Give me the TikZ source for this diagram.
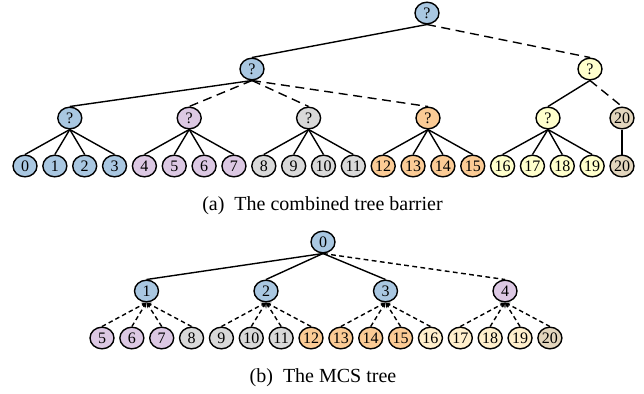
\documentclass[tikz,border=0pt]{standalone}
\usepackage{fontspec}
\setmainfont{Liberation Serif}
\usetikzlibrary{shapes.geometric,arrows.meta}
\definecolor{cblue}{HTML}{A9C7E1}
\definecolor{cpurple}{HTML}{DCC8E3}
\definecolor{cgray}{HTML}{D9D9D9}
\definecolor{corange}{HTML}{FBCB95}
\definecolor{cyellow}{HTML}{FFFFCC}
\definecolor{ccream}{HTML}{FFEFCC}
\definecolor{ctan}{HTML}{E2D5BD}
\tikzset{
  tn/.style={ellipse,draw=black,line width=0.7pt,minimum width=12pt,minimum height=10.8pt,inner sep=0pt,font=\fontsize{8}{8}\selectfont},
  sedge/.style={line width=0.7pt},
  dedge/.style={line width=0.7pt,dash pattern=on 4.5pt off 2.8pt},
  bedge/.style={line width=0.7pt,dash pattern=on 2.2pt off 1.6pt,-{Stealth[length=2.6pt,width=2.4pt]}},
  thedge/.style={line width=1.2pt},
  captxt/.style={font=\fontsize{10}{12}\selectfont}
}
\begin{document}
\begin{tikzpicture}[x=0.5pt,y=-0.5pt]
\useasboundingbox (0,0) rectangle (644,393);
% ---------- (a) ----------
\node[tn,fill=cblue] (r) at (427,13) {?};
\node[tn,fill=cblue] (la) at (252,69) {?};
\node[tn,fill=cyellow] (lb) at (590,69) {?};
\node[tn,fill=cblue] (g1) at (69.8,118) {?};
\node[tn,fill=cpurple] (g2) at (189.2,118) {?};
\node[tn,fill=cgray] (g3) at (308.6,118) {?};
\node[tn,fill=corange] (g4) at (428,118) {?};
\node[tn,fill=cyellow] (g5) at (548,118) {?};
\node[tn,fill=ctan] (g6) at (622,118) {20};
\foreach \i/\c in {0/cblue,1/cblue,2/cblue,3/cblue,4/cpurple,5/cpurple,6/cpurple,7/cpurple,8/cgray,9/cgray,10/cgray,11/cgray,12/corange,13/corange,14/corange,15/corange,16/cyellow,17/cyellow,18/cyellow,19/cyellow}
  \node[tn,fill=\c] (a\i) at ({25+29.85*\i},166) {\i};
\node[tn,fill=ctan] (a20) at (622,166) {20};
\draw[sedge] (r.south) -- (la.north);
\draw[dedge] (r.south) -- (lb.north);
\draw[sedge] (la.south) -- (g1.north);
\draw[dedge] (la.south) -- (g2.north);
\draw[dedge] (la.south) -- (g3.north);
\draw[dedge] (la.south) -- (g4.north);
\draw[sedge] (lb.south) -- (g5.north);
\draw[dedge] (lb.south) -- (g6.north);
\foreach \g/\a/\b/\c/\d in {g1/0/1/2/3,g2/4/5/6/7,g3/8/9/10/11,g4/12/13/14/15,g5/16/17/18/19}
  \foreach \k in {\a,\b,\c,\d}
    \draw[sedge] (\g.south) -- (a\k.north);
\draw[thedge] (g6.south) -- (a20.north);
\node[captxt] (capa) at (322.5,206) {(a)\hspace{5pt}The combined tree barrier};
% ---------- (b) ----------
\node[tn,fill=cblue] (m0) at (323,242) {0};
\node[tn,fill=cblue] (m1) at (146.5,291) {1};
\node[tn,fill=cblue] (m2) at (266,291) {2};
\node[tn,fill=cblue] (m3) at (385.5,291) {3};
\node[tn,fill=cpurple] (m4) at (505,291) {4};
\foreach \i/\c in {5/cpurple,6/cpurple,7/cpurple,8/cgray,9/cgray,10/cgray,11/cgray,12/corange,13/corange,14/corange,15/corange,16/ccream,17/ccream,18/ccream,19/ccream,20/ctan}
  \node[tn,fill=\c] (b\i) at ({102+29.86*(\i-5)},338) {\i};
\draw[sedge] (m0.south) -- (m1.north);
\draw[sedge] (m0.south) -- (m2.north);
\draw[sedge] (m0.south) -- (m3.north);
\draw[line width=0.7pt,dash pattern=on 2.4pt off 1.7pt] (m0.south) -- (m4.north);
\foreach \p/\a/\b/\c/\d in {m1/5/6/7/8,m2/9/10/11/12,m3/13/14/15/16,m4/17/18/19/20}
  \foreach \k in {\a,\b,\c,\d}
    \draw[bedge] (b\k.north) -- (\p.south);
\node[captxt] (capb) at (323,378) {(b)\hspace{5pt}The MCS tree};
\end{tikzpicture}
\end{document}
